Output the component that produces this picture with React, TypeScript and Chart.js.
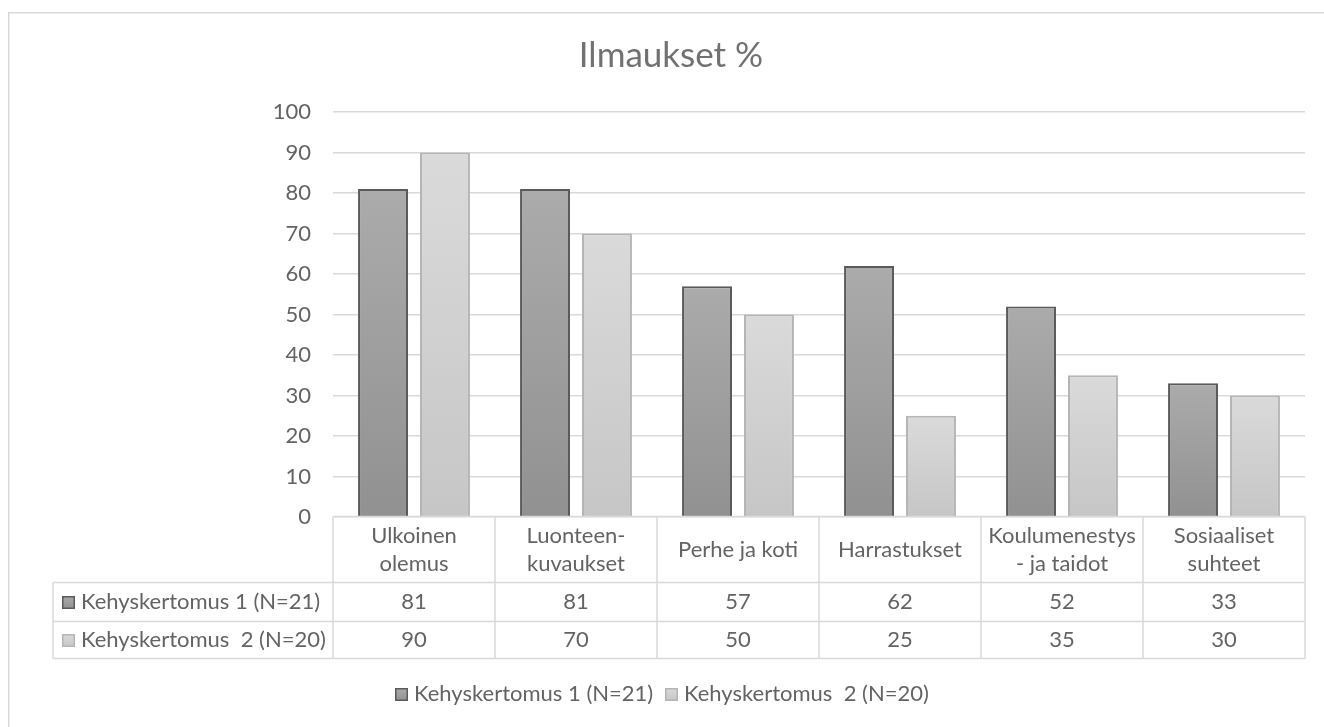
import React, { useEffect, useRef } from "react";
import { Chart, registerables } from "chart.js";
Chart.register(...registerables);

const chartTitle = "Ilmaukset %";
const categories: string[][] = [
  ["Ulkoinen", "olemus"],
  ["Luonteen-", "kuvaukset"],
  ["Perhe ja koti"],
  ["Harrastukset"],
  ["Koulumenestys", "- ja taidot"],
  ["Sosiaaliset", "suhteet"],
];
const series1Label = "Kehyskertomus 1 (N=21)";
const series2Label = "Kehyskertomus  2 (N=20)";
const series1 = [81, 81, 57, 62, 52, 33];
const series2 = [90, 70, 50, 25, 35, 30];
const yMin = 0;
const yMax = 100;
const yStep = 10;

const FONT = "Lato";
const TEXT = "#636363";
const GRID = "#d9d9d9";
const DARK_TOP = "#ababab";
const DARK_BOTTOM = "#919191";
const DARK_BORDER = "#5a5a5a";
const LIGHT_TOP = "#dadada";
const LIGHT_BOTTOM = "#c6c6c6";
const LIGHT_BORDER = "#b5b5b5";

function grad(top: string, bottom: string) {
  return (c: any) => {
    const chart = c.chart;
    const y = chart.scales && chart.scales.y;
    if (!y || c.raw == null || !chart.chartArea) return top;
    const y0 = y.getPixelForValue(c.raw as number);
    const y1 = y.getPixelForValue(0);
    const g = chart.ctx.createLinearGradient(0, y0, 0, y1);
    g.addColorStop(0, top);
    g.addColorStop(1, bottom);
    return g;
  };
}

function drawKey(ctx: CanvasRenderingContext2D, x: number, yc: number, top: string, bottom: string, border: string) {
  const s = 13;
  const y = Math.round(yc - s / 2);
  const g = ctx.createLinearGradient(0, y, 0, y + s);
  g.addColorStop(0, top);
  g.addColorStop(1, bottom);
  ctx.fillStyle = g;
  ctx.fillRect(x, y, s, s);
  ctx.strokeStyle = border;
  ctx.lineWidth = 1.5;
  ctx.strokeRect(x + 0.75, y + 0.75, s - 1.5, s - 1.5);
}

const decorPlugin = {
  id: "decor",
  beforeDraw(chart: any) {
    const ctx: CanvasRenderingContext2D = chart.ctx;
    ctx.save();
    ctx.fillStyle = "#ffffff";
    ctx.fillRect(0, 0, chart.width, chart.height);
    ctx.strokeStyle = GRID;
    ctx.lineWidth = 1.5;
    ctx.strokeRect(8.75, 12.75, chart.width + 100, chart.height + 100);
    ctx.restore();
  },
  afterDraw(chart: any) {
    const ctx: CanvasRenderingContext2D = chart.ctx;
    const x = chart.scales.x;
    const area = chart.chartArea;
    const n = categories.length;
    const half = (x.getPixelForValue(1) - x.getPixelForValue(0)) / 2;
    const bounds: number[] = categories.map((_, i) => x.getPixelForValue(i) - half);
    bounds.push(x.getPixelForValue(n - 1) + half);
    const t0 = area.bottom - 0.5;
    const t1 = t0 + 66;
    const t2 = t1 + 39;
    const t3 = t2 + 37;
    const leftCol = 53;

    ctx.save();
    // title
    ctx.fillStyle = "#717171";
    ctx.font = `35px ${FONT}`;
    ctx.textAlign = "center";
    ctx.textBaseline = "alphabetic";
    ctx.fillText(chartTitle, 671, 67);

    // table lines
    ctx.strokeStyle = GRID;
    ctx.lineWidth = 1.5;
    ctx.beginPath();
    ctx.moveTo(bounds[0], t0);
    ctx.lineTo(bounds[n], t0);
    [t1, t2, t3].forEach((yy) => {
      ctx.moveTo(leftCol, yy);
      ctx.lineTo(bounds[n], yy);
    });
    bounds.forEach((bx) => {
      ctx.moveTo(bx, t0);
      ctx.lineTo(bx, t3);
    });
    ctx.moveTo(leftCol, t1);
    ctx.lineTo(leftCol, t3);
    ctx.stroke();

    // category labels
    ctx.fillStyle = TEXT;
    ctx.font = `22px ${FONT}`;
    ctx.textAlign = "center";
    ctx.textBaseline = "middle";
    const lh = 28;
    categories.forEach((lines, i) => {
      const cx = x.getPixelForValue(i);
      const mid = (t0 + t1) / 2;
      const start = mid - ((lines.length - 1) * lh) / 2;
      lines.forEach((ln, j) => ctx.fillText(ln, cx, start + j * lh));
    });
    // values
    const r1c = (t1 + t2) / 2;
    const r2c = (t2 + t3) / 2;
    series1.forEach((v, i) => ctx.fillText(String(v), x.getPixelForValue(i), r1c));
    series2.forEach((v, i) => ctx.fillText(String(v), x.getPixelForValue(i), r2c));
    // row headers
    ctx.textAlign = "left";
    drawKey(ctx, 62, r1c, DARK_TOP, DARK_BOTTOM, DARK_BORDER);
    ctx.fillStyle = TEXT;
    ctx.fillText(series1Label, 81, r1c);
    drawKey(ctx, 62, r2c, LIGHT_TOP, LIGHT_BOTTOM, LIGHT_BORDER);
    ctx.fillStyle = TEXT;
    ctx.fillText(series2Label, 81, r2c);

    // legend
    const ly = 694;
    const keyW = 13;
    const keyGap = 6;
    const itemGap = 12;
    const w1 = ctx.measureText(series1Label).width;
    const w2 = ctx.measureText(series2Label).width;
    const total = keyW + keyGap + w1 + itemGap + keyW + keyGap + w2;
    let lx = Math.round(662 - total / 2);
    drawKey(ctx, lx, ly, DARK_TOP, DARK_BOTTOM, DARK_BORDER);
    ctx.fillStyle = TEXT;
    ctx.fillText(series1Label, lx + keyW + keyGap, ly);
    lx = Math.round(lx + keyW + keyGap + w1 + itemGap);
    drawKey(ctx, lx, ly, LIGHT_TOP, LIGHT_BOTTOM, LIGHT_BORDER);
    ctx.fillStyle = TEXT;
    ctx.fillText(series2Label, lx + keyW + keyGap, ly);
    ctx.restore();
  },
};

export default function App() {
  const ref = useRef<HTMLCanvasElement | null>(null);
  useEffect(() => {
    if (!ref.current) return;
    const chart = new Chart(ref.current, {
      type: "bar",
      data: {
        labels: categories.map((c) => c.join(" ")),
        datasets: [
          {
            label: series1Label,
            data: series1,
            backgroundColor: grad(DARK_TOP, DARK_BOTTOM),
            borderColor: DARK_BORDER,
            borderWidth: 2,
            categoryPercentage: 0.765,
            barPercentage: 0.806,
          },
          {
            label: series2Label,
            data: series2,
            backgroundColor: grad(LIGHT_TOP, LIGHT_BOTTOM),
            borderColor: LIGHT_BORDER,
            borderWidth: 2,
            categoryPercentage: 0.765,
            barPercentage: 0.806,
          },
        ],
      },
      options: {
        responsive: false,
        animation: false,
        devicePixelRatio: 1,
        layout: { padding: { left: 0, right: 19, top: 112, bottom: 210 } },
        plugins: {
          legend: { display: false },
          title: { display: false },
          tooltip: { enabled: false },
        },
        scales: {
          x: { display: false },
          y: {
            min: yMin,
            max: yMax,
            ticks: {
              stepSize: yStep,
              padding: 22,
              color: TEXT,
              font: { family: FONT, size: 22 },
            },
            grid: { color: GRID, lineWidth: 1.5, drawTicks: false },
            border: { display: false },
            afterFit: (scale: any) => {
              scale.width = 333;
            },
          },
        },
      },
      plugins: [decorPlugin],
    });
    return () => chart.destroy();
  }, []);
  return (
    <canvas
      ref={ref}
      width={1324}
      height={727}
      style={{ position: "fixed", left: 0, top: 0, width: 1324, height: 727 }}
    />
  );
}
